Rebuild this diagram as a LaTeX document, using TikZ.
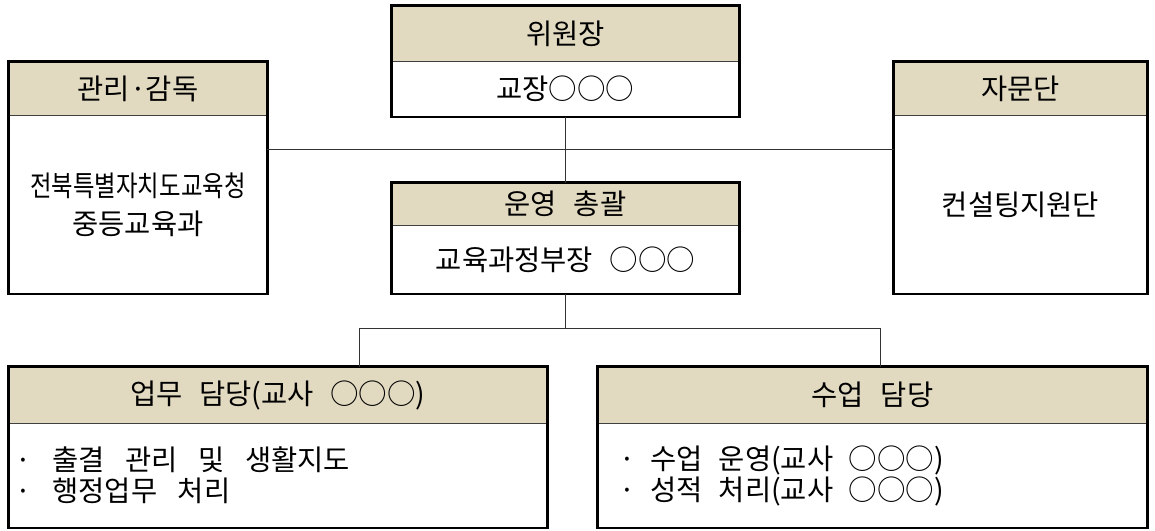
\documentclass[tikz,border=0pt]{standalone}
\usepackage{fontspec}
\usepackage{graphicx}
\setmainfont{Noto Sans CJK KR}[WordSpace=2.6]
\usepackage{xcolor}
\usepackage{tikz}
\usetikzlibrary{positioning, calc}
\definecolor{headtan}{RGB}{226,218,192}
\tikzstyle{head} = [rectangle, inner sep=0pt, text centered, draw=black!75, line width=0.8pt, fill=headtan, font=\fontsize{28.5}{31}\selectfont]
\tikzstyle{body} = [rectangle, inner sep=0pt, text centered, font=\fontsize{28.5}{31}\selectfont]
\tikzstyle{frame} = [draw=black, line width=2.6pt]
\tikzstyle{link} = [draw=black!80, line width=0.9pt]

\begin{document}
\begin{tikzpicture}[x=1pt, y=-1pt]
        \useasboundingbox (0,0) rectangle (1155,530);

        % Chair
        \node (chairH) [head, minimum width=347pt, minimum height=55pt] at (565.5,33.5) {위원장};
        \node (chair) [body, minimum width=347pt, minimum height=55pt, below=0pt of chairH] {교장○○○};

        % Operations
        \node (opsH) [head, minimum width=347pt, minimum height=42pt] at (565.5,204) {운영 총괄};
        \node (ops) [body, minimum width=347pt, minimum height=68pt, below=0pt of opsH] {교육과정부장 ○○○};

        % Supervision
        \node (mgmtH) [head, minimum width=258pt, minimum height=53pt] at (138,88.5) {관리·감독};
        \node (mgmt) [body, minimum width=258pt, minimum height=178pt, align=center, font=\fontsize{28.5}{38}\selectfont, below=0pt of mgmtH] {\scalebox{0.82}[1]{전북특별자치도교육청}\\중등교육과};

        % Advisory
        \node (adviceH) [head, minimum width=253pt, minimum height=53pt] at (1020.5,88.5) {자문단};
        \node (advice) [body, minimum width=253pt, minimum height=178pt, below=0pt of adviceH] {컨설팅지원단};

        % Staff
        \node (dutyH) [head, minimum width=538pt, minimum height=56pt] at (278,395) {업무 담당(교사 ○○○)};
        \node (duty) [body, minimum width=538pt, minimum height=104pt, text width=524pt, inner xsep=7pt, align=left, below=0pt of dutyH] {\spaceskip=0.72em\relax · 출결 관리 및 생활지도\\· 행정업무 처리};

        \node (classH) [head, minimum width=549pt, minimum height=56pt] at (872.5,395) {수업 담당};
        \node (class) [body, minimum width=549pt, minimum height=104pt, text width=507pt, inner xsep=21pt, align=left, below=0pt of classH] {\spaceskip=0.55em\relax · 수업 운영(교사 ○○○)\\· 성적 처리(교사 ○○○)};

        % Frames
        \foreach \unit in {chair, ops, mgmt, advice, duty, class}
          \draw [frame] (\unit H.north west) rectangle (\unit.south east);

        % Lines
        \coordinate (hub) at (565.5,149);
        \coordinate (split) at (565.5,328);
        \coordinate (dropL) at (359,328);
        \coordinate (dropR) at (880,328);
        \draw [link] (chair.south) -- (opsH.north);
        \draw [link] (mgmt.east |- hub) -- (advice.west |- hub);
        \draw [link] (ops.south) -- (split);
        \draw [link] (dropL |- dutyH.north) -- (dropL) -- (dropR) -- (dropR |- classH.north);
      \end{tikzpicture}
\end{document}
